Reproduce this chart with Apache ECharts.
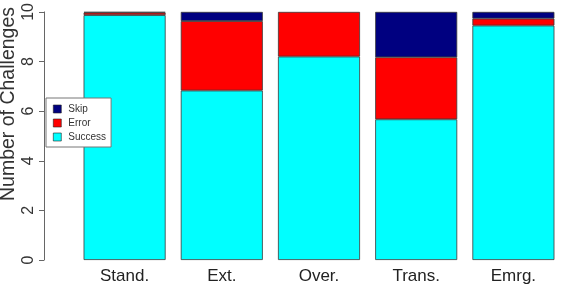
<!DOCTYPE html>
<html>
<head>
<meta charset="utf-8">
<script src="https://cdn.jsdelivr.net/npm/echarts@6/dist/echarts.min.js"></script>
<style>
  html, body { margin: 0; padding: 0; background: #fff; }
  #chart { width: 562px; height: 289px; }
</style>
</head>
<body>
<div id="chart"></div>
<script>
const categories = ['Stand.', 'Ext.', 'Over.', 'Trans.', 'Emrg.']
const success = [9.87, 6.83, 8.2, 5.67, 9.45]
const error = [0.1, 2.8, 1.8, 2.5, 0.28]
const skip = [0.03, 0.37, null, 1.83, 0.27]
const yTicks = [0, 2, 4, 6, 8, 10]

const font = 'Liberation Sans, Arial, sans-serif'
const chart = echarts.init(document.getElementById('chart'))

const barStyle = (color) => ({ color, borderColor: '#3a3a3a', borderWidth: 0.8 })

chart.setOption({
  animation: false,
  textStyle: { fontFamily: font },
  grid: { left: 76, right: 0, top: 9, bottom: 29 },
  legend: {
    orient: 'vertical',
    left: 46, top: 98,
    data: ['Skip', 'Error', 'Success'],
    icon: 'rect',
    backgroundColor: '#fff',
    borderColor: '#777', borderWidth: 1,
    padding: [6, 5, 5, 7],
    itemWidth: 8, itemHeight: 8, itemGap: 4,
    itemStyle: { borderColor: '#222', borderWidth: 0.6 },
    textStyle: { fontSize: 10, color: '#333', fontFamily: font, padding: [0, 0, 0, 2] }
  },
  xAxis: {
    type: 'category',
    data: categories,
    axisLine: { show: false },
    axisTick: { show: false },
    axisLabel: { fontSize: 17, color: '#222', margin: 8 }
  },
  yAxis: {
    type: 'value',
    min: yTicks[0], max: yTicks[yTicks.length - 1], interval: 2,
    offset: 32,
    splitLine: { show: false },
    axisLine: { show: true, lineStyle: { color: '#666', width: 1 } },
    axisTick: { show: true, length: 5, lineStyle: { color: '#666' } },
    axisLabel: { fontSize: 16, color: '#333', rotate: 90, margin: 7 }
  },
  graphic: [{
    type: 'text',
    x: 9, y: 104,
    rotation: Math.PI / 2,
    style: {
      text: 'Number of Challenges',
      font: '19.5px ' + font,
      fill: '#333',
      textAlign: 'center',
      textVerticalAlign: 'middle'
    }
  }],
  series: [
    { name: 'Success', type: 'bar', stack: 'a', data: success, itemStyle: barStyle('#00ffff'), barCategoryGap: '15.6%' },
    { name: 'Error', type: 'bar', stack: 'a', data: error, itemStyle: barStyle('#ff0000') },
    { name: 'Skip', type: 'bar', stack: 'a', data: skip, itemStyle: barStyle('#000080') }
  ]
})
</script>
</body>
</html>
